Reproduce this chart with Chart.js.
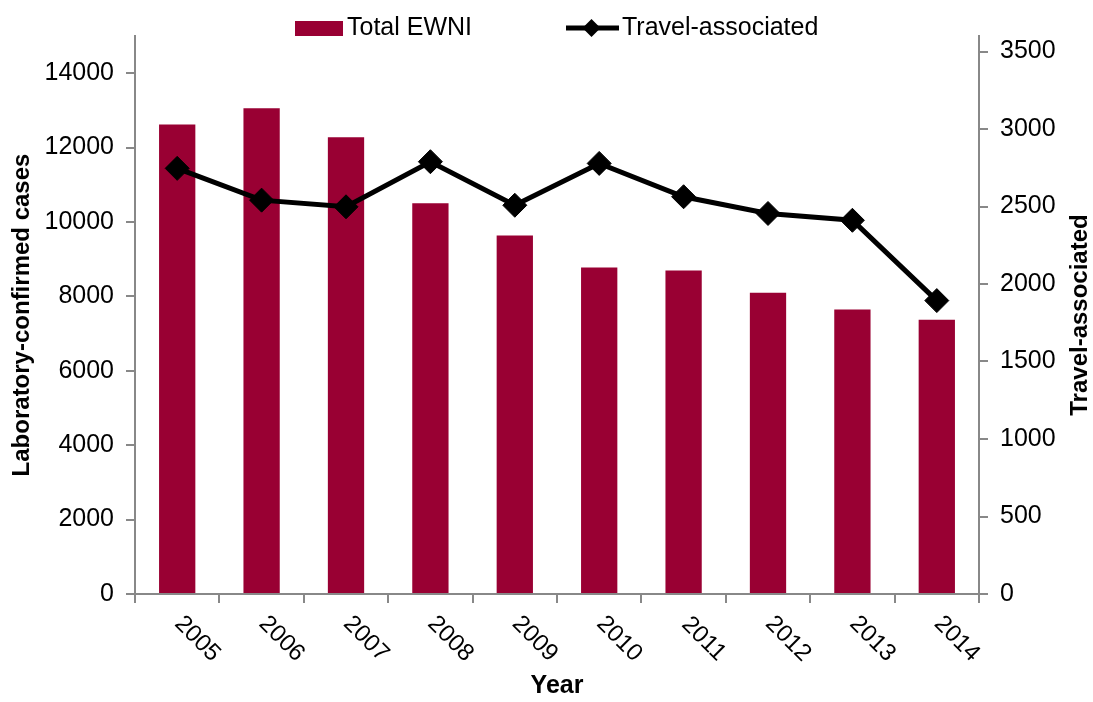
<!DOCTYPE html>
<html>
<head>
<meta charset="utf-8">
<script src="https://cdn.jsdelivr.net/npm/chart.js@4/dist/chart.umd.min.js"></script>
<style>
body{margin:0;background:#fff}
</style>
</head>
<body>
<canvas id="chart" width="1093" height="702"></canvas>
<script>
const years=["2005","2006","2007","2008","2009","2010","2011","2012","2013","2014"]
const totalEWNI=[12620,13055,12275,10505,9640,8775,8695,8100,7645,7375]
const travelAssociated=[2746,2541,2498,2789,2508,2778,2563,2455,2411,1893]
const leftTicks=[0,2000,4000,6000,8000,10000,12000,14000]
const rightTicks=[0,500,1000,1500,2000,2500,3000,3500]
const leftMax=15000
const rightMax=3600

const FONT="'Liberation Sans', Arial, sans-serif"
const BAR="#990033"
const AXIS="#888888"

// year labels go down-right, right title reads upward, legend with line+diamond
const extras={
id:"extras",
afterDraw(chart){
const ctx=chart.ctx
const area=chart.chartArea
const xs=chart.scales.x
ctx.save()
ctx.fillStyle="#000"
ctx.font="24px "+FONT
ctx.textAlign="center"
ctx.textBaseline="middle"
chart.data.labels.forEach((yr,i)=>{
ctx.save()
ctx.translate(xs.getPixelForValue(i)+20,area.bottom+45)
ctx.rotate(Math.PI/4)
ctx.fillText(yr,0,0)
ctx.restore()
})

ctx.save()
ctx.font="bold 24px "+FONT
ctx.translate(1080,(area.top+area.bottom)/2)
ctx.rotate(-Math.PI/2)
ctx.fillText(chart.data.datasets[0].label,0,0)
ctx.restore()

const ds=chart.data.datasets
ctx.textAlign="left"
ctx.textBaseline="alphabetic"
ctx.font="25px "+FONT
ctx.fillStyle=BAR
ctx.fillRect(295,21,48,15)
ctx.fillStyle="#000"
ctx.fillText(ds[1].label,347,35)

ctx.strokeStyle="#000"
ctx.lineWidth=5
ctx.beginPath()
ctx.moveTo(566,28)
ctx.lineTo(619,28)
ctx.stroke()
ctx.beginPath()
ctx.moveTo(591.5,19)
ctx.lineTo(600.5,28)
ctx.lineTo(591.5,37)
ctx.lineTo(582.5,28)
ctx.closePath()
ctx.fill()
ctx.fillText(ds[0].label,622,35)
ctx.restore()
}
}

const tickOpts={color:"#000",font:{family:FONT,size:25},padding:12,callback:v=>String(v)}
const gridOpts={display:true,drawOnChartArea:false,drawTicks:true,tickLength:9,color:AXIS,lineWidth:2}

new Chart(document.getElementById("chart"),{
type:"bar",
data:{
labels:years,
datasets:[
{
type:"line",
label:"Travel-associated",
data:travelAssociated,
yAxisID:"y1",
borderColor:"#000",
backgroundColor:"#000",
borderWidth:5,
pointStyle:"rectRot",
pointRadius:12,
pointBorderWidth:1,
pointBackgroundColor:"#000",
tension:0,
order:0
},
{
label:"Total EWNI",
data:totalEWNI,
yAxisID:"y",
backgroundColor:BAR,
categoryPercentage:1,
barPercentage:0.43,
order:1
}
]
},
plugins:[extras],
options:{
responsive:false,
animation:false,
layout:{padding:{top:36,left:0,right:0,bottom:0}},
plugins:{legend:{display:false},tooltip:{enabled:false}},
scales:{
x:{
afterFit(s){s.height=108},
ticks:{display:false},
grid:gridOpts,
border:{display:true,color:AXIS,width:2},
title:{display:true,text:"Year",color:"#000",font:{family:FONT,size:25,weight:"bold"},padding:{top:0,bottom:1}}
},
y:{
position:"left",
min:0,
max:leftMax,
afterFit(s){s.width=135},
afterBuildTicks(s){s.ticks=leftTicks.map(v=>({value:v}))},
ticks:tickOpts,
grid:gridOpts,
border:{display:true,color:AXIS,width:2},
title:{display:true,text:"Laboratory-confirmed cases",color:"#000",font:{family:FONT,size:24,weight:"bold"},padding:{top:8,bottom:0}}
},
y1:{
position:"right",
min:0,
max:rightMax,
afterFit(s){s.width=114},
afterBuildTicks(s){s.ticks=rightTicks.map(v=>({value:v}))},
ticks:tickOpts,
grid:gridOpts,
border:{display:true,color:AXIS,width:2}
}
}
}
})
</script>
</body>
</html>
